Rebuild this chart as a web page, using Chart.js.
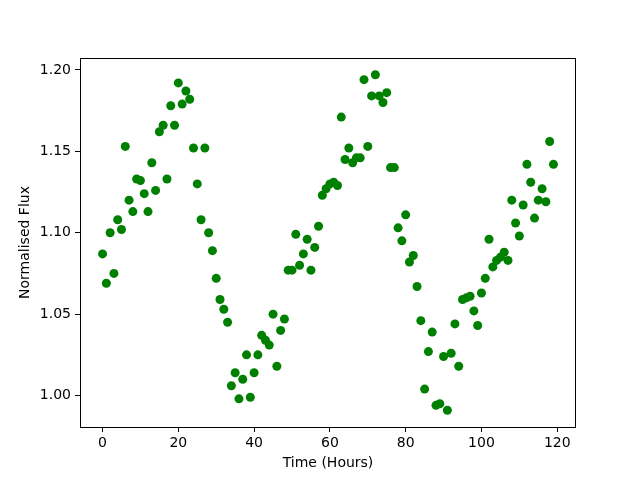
<!DOCTYPE html>
<html>
<head>
<meta charset="utf-8">
<script src="https://cdn.jsdelivr.net/npm/chart.js@4"></script>
<style>
  body { margin: 0; background: #fff; }
  canvas { display: block; }
</style>
</head>
<body>
<canvas id="fluxChart" width="640" height="480"></canvas>
<script>
const hours = [
  0, 1, 2, 3, 4, 5, 6, 7, 8, 9, 10, 11, 12, 13, 14, 15, 16, 17, 18, 19,
  20, 21, 22, 23, 24, 25, 26, 27, 28, 29, 30, 31, 32, 33, 34, 35, 36, 37, 38, 39,
  40, 41, 42, 43, 44, 45, 46, 47, 48, 49, 50, 51, 52, 53, 54, 55, 56, 57, 58, 59,
  60, 61, 62, 63, 64, 65, 66, 67, 68, 69, 70, 71, 72, 73, 74, 75, 76, 77, 78, 79,
  80, 81, 82, 83, 84, 85, 86, 87, 88, 89, 90, 91, 92, 93, 94, 95, 96, 97, 98, 99,
  100, 101, 102, 103, 104, 105, 106, 107, 108, 109, 110, 111, 112, 113, 114, 115, 116, 117, 118, 119
];

const flux = [
  1.087, 1.069, 1.100, 1.075, 1.108, 1.102, 1.153, 1.120, 1.113, 1.133,
  1.132, 1.124, 1.113, 1.143, 1.126, 1.162, 1.166, 1.133, 1.178, 1.166,
  1.192, 1.179, 1.187, 1.182, 1.152, 1.130, 1.108, 1.152, 1.100, 1.089,
  1.072, 1.059, 1.053, 1.045, 1.006, 1.014, 0.998, 1.010, 1.025, 0.999,
  1.014, 1.025, 1.037, 1.034, 1.031, 1.050, 1.018, 1.040, 1.047, 1.077,
  1.077, 1.099, 1.080, 1.087, 1.096, 1.077, 1.091, 1.104, 1.123, 1.127,
  1.130, 1.131, 1.129, 1.171, 1.145, 1.152, 1.143, 1.146, 1.146, 1.194,
  1.153, 1.184, 1.197, 1.184, 1.180, 1.186, 1.140, 1.140, 1.103, 1.095,
  1.111, 1.082, 1.086, 1.067, 1.046, 1.004, 1.027, 1.039, 0.994, 0.995,
  1.024, 0.991, 1.026, 1.044, 1.018, 1.059, 1.060, 1.061, 1.052, 1.043,
  1.063, 1.072, 1.096, 1.079, 1.083, 1.085, 1.088, 1.083, 1.120, 1.106,
  1.098, 1.117, 1.142, 1.131, 1.109, 1.120, 1.127, 1.119, 1.156, 1.142
];

const xTicks = [0, 20, 40, 60, 80, 100, 120];
const yTicks = [1.00, 1.05, 1.10, 1.15, 1.20];

const font = { family: "DejaVu Sans", size: 14 };

// box round the plot area, like matplotlib spines
const framePlugin = {
  id: "frame",
  afterDraw(chart) {
    const { ctx, chartArea: a } = chart;
    ctx.save();
    ctx.strokeStyle = "#000";
    ctx.lineWidth = 1;
    ctx.strokeRect(Math.round(a.left) + 0.5, Math.round(a.top) + 0.5,
      Math.round(a.right - a.left) - 1, Math.round(a.bottom - a.top));
    ctx.restore();
  },
};

const ctx = document.getElementById("fluxChart").getContext("2d");
new Chart(ctx, {
  type: "scatter",
  data: {
    datasets: [
      {
        data: hours.map((h, i) => ({ x: h, y: flux[i] })),
        backgroundColor: "#008000",
        borderWidth: 0,
        pointRadius: 4.5,
      },
    ],
  },
  options: {
    responsive: false,
    animation: false,
    devicePixelRatio: 1,
    layout: { padding: { top: 58, right: 64, left: 0, bottom: 0 } },
    plugins: { legend: { display: false }, tooltip: { enabled: false } },
    scales: {
      x: {
        type: "linear",
        min: -5.95,
        max: 124.95,
        afterFit: (s) => { s.height = 53; },
        afterBuildTicks: (s) => { s.ticks = xTicks.map((v) => ({ value: v })); },
        border: { display: false },
        grid: { drawOnChartArea: false, drawTicks: true, tickLength: 5, tickColor: "#000" },
        ticks: { color: "#000", font, padding: 3, maxRotation: 0 },
        title: { display: true, text: "Time (Hours)", color: "#000", font, padding: { top: 0, bottom: 8 } },
      },
      y: {
        type: "linear",
        min: 0.9807,
        max: 1.2073,
        afterFit: (s) => { s.width = 80; },
        afterBuildTicks: (s) => { s.ticks = yTicks.map((v) => ({ value: v })); },
        border: { display: false },
        grid: { drawOnChartArea: false, drawTicks: true, tickLength: 5, tickColor: "#000" },
        ticks: { color: "#000", font, padding: 4, callback: (v) => Number(v).toFixed(2) },
        title: { display: true, text: "Normalised Flux", color: "#000", font, padding: { top: 17, bottom: 0 } },
      },
    },
  },
  plugins: [framePlugin],
});
</script>
</body>
</html>
